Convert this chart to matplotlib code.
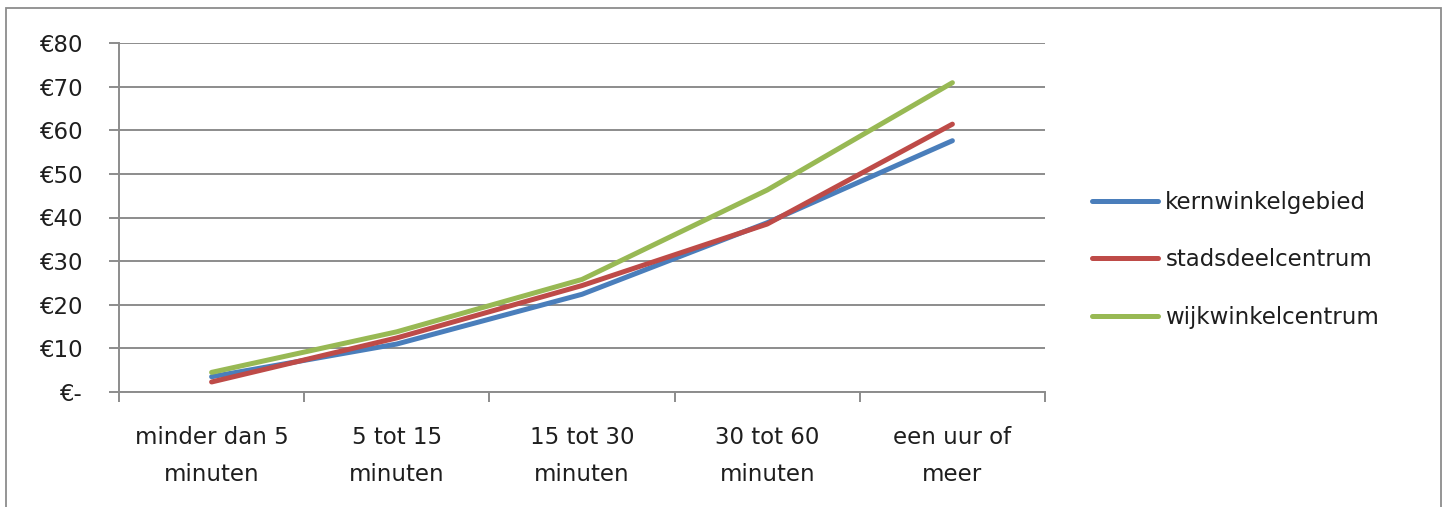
import matplotlib
matplotlib.use("Agg")
import matplotlib.pyplot as plt
from matplotlib.patches import Rectangle
from matplotlib.ticker import FixedLocator, FuncFormatter

# Average spend (euro) by visit duration, per type of shopping area
categories = ["minder dan 5\nminuten", "5 tot 15\nminuten", "15 tot 30\nminuten",
              "30 tot 60\nminuten", "een uur of\nmeer"]
kernwinkelgebied = [3.5, 11.0, 22.4, 38.8, 57.6]
stadsdeelcentrum = [2.3, 12.4, 24.4, 38.5, 61.4]
wijkwinkelcentrum = [4.5, 13.8, 25.8, 46.3, 70.9]
series_names = ["kernwinkelgebied", "stadsdeelcentrum", "wijkwinkelcentrum"]
y_ticks = [0, 10, 20, 30, 40, 50, 60, 70, 80]

colors = ["#4A7EBB", "#BE4B48", "#98B954"]
grid_col = "#8C8C8C"
text_col = "#1E1E1E"
font = "DejaVu Sans"
fsize = 16.5
line_w = 3.6

W, H = 1448, 507
fig = plt.figure(figsize=(W / 100, H / 100), dpi=100)
fig.patch.set_facecolor("white")

ax = fig.add_axes([119 / W, 1 - 392 / H, (1045 - 119) / W, (392 - 43) / H])

x = list(range(len(categories)))
for vals, name, col in zip([kernwinkelgebied, stadsdeelcentrum, wijkwinkelcentrum],
                           series_names, colors):
    ax.plot(x, vals, color=col, lw=line_w, label=name,
            solid_joinstyle="round", solid_capstyle="round", zorder=3)

ax.set_xlim(-0.5, len(categories) - 0.5)
ax.set_ylim(0, 80)

# y axis: euro labels, gridlines
ax.set_yticks(y_ticks)
ax.yaxis.set_major_formatter(FuncFormatter(lambda v, p: "€-" if v == 0 else f"€{v:.0f}"))
ax.grid(axis="y", color=grid_col, lw=1.4, zorder=1)
ax.tick_params(axis="y", length=7.5, width=1.4, color=grid_col, pad=19,
               labelsize=fsize, labelcolor=text_col)

# x axis: tick marks between categories, labels centred on categories
ax.xaxis.set_major_locator(FixedLocator([i - 0.5 for i in range(len(categories) + 1)]))
ax.xaxis.set_minor_locator(FixedLocator(x))
ax.set_xticklabels([])
ax.set_xticks(x, minor=True)
ax.set_xticklabels(categories, minor=True, fontsize=fsize, color=text_col,
                   linespacing=1.78, family=font)
ax.tick_params(axis="x", which="major", length=7.5, width=1.4, color=grid_col, direction="out")
ax.tick_params(axis="x", which="minor", length=0, pad=24.5)

for lab in ax.get_yticklabels():
    lab.set_family(font)

for side in ["top", "right"]:
    ax.spines[side].set_visible(False)
for side in ["left", "bottom"]:
    ax.spines[side].set_color(grid_col)
    ax.spines[side].set_linewidth(1.4)

leg = ax.legend(loc="center left", bbox_to_anchor=(1092 / W, 1 - 260 / H),
                bbox_transform=fig.transFigure, frameon=False,
                prop={"family": font, "size": fsize}, labelcolor=text_col,
                handlelength=2.9, handletextpad=0.3, labelspacing=1.5,
                borderpad=0, borderaxespad=0)
for h in leg.get_lines():
    h.set_linewidth(line_w)

# chart border
fig.add_artist(Rectangle((6 / W, -0.02), (1441 - 6) / W, 1.02 - 8 / H,
                         transform=fig.transFigure, fill=False,
                         edgecolor=grid_col, lw=1.3))

fig.savefig("out.png", dpi=100, facecolor="white")
